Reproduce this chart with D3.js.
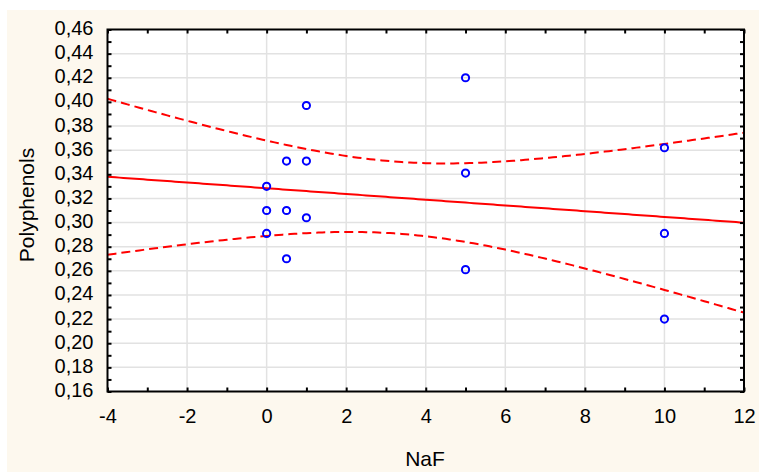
<!DOCTYPE html>
<html>
<head>
<meta charset="utf-8">
<script src="https://cdn.jsdelivr.net/npm/d3@7/dist/d3.min.js"></script>
<style>
  html, body { margin: 0; padding: 0; background: #ffffff; }
  svg { display: block; }
  text { font-family: "Liberation Sans", Arial, sans-serif; fill: #000; }
</style>
</head>
<body>
<svg id="chart" width="759" height="474"></svg>
<script>
// NaF dose (x) and measured polyphenols (y), one entry per sample
const nafDose = [0, 0, 0, 0.5, 0.5, 0.5, 1, 1, 1, 5, 5, 5, 10, 10, 10];
const polyphenols = [0.330, 0.310, 0.291, 0.351, 0.310, 0.270, 0.397, 0.351, 0.304,
                     0.420, 0.341, 0.261, 0.362, 0.291, 0.220];

// Axis tick labels
const xTickValues = [-4, -2, 0, 2, 4, 6, 8, 10, 12];
const yTickValues = [0.16, 0.18, 0.20, 0.22, 0.24, 0.26, 0.28, 0.30, 0.32,
                     0.34, 0.36, 0.38, 0.40, 0.42, 0.44, 0.46];
const xMinorTicks = d3.range(-4, 12.001, 1);
const yMinorTicks = d3.range(0.16, 0.4601, 0.01);

const xTitle = "NaF";
const yTitle = "Polyphenols";

// Two-sided 95% Student t quantile for n - 2 = 13 degrees of freedom
const tCrit = 2.1604;

const svg = d3.select("#chart");
const W = 759, H = 474;
const plot = { left: 107.5, top: 29.5, right: 744, bottom: 391.5 };

const x = d3.scaleLinear().domain([-4, 12]).range([plot.left, plot.right]);
const y = d3.scaleLinear().domain([0.16, 0.46]).range([plot.bottom, plot.top]);

// Panel background
svg.append("rect").attr("x", 7).attr("y", 10).attr("width", W - 7).attr("height", 462)
  .attr("fill", "#fdf8ee");
svg.append("rect").attr("x", plot.left).attr("y", plot.top)
  .attr("width", plot.right - plot.left).attr("height", plot.bottom - plot.top)
  .attr("fill", "#ffffff");

// Grid lines at the labelled ticks
const grid = svg.append("g").attr("stroke", "#e2e2e2").attr("stroke-width", 1.5);
grid.selectAll(".gx").data(xTickValues.slice(1, -1)).join("line")
  .attr("x1", d => x(d)).attr("x2", d => x(d))
  .attr("y1", plot.top).attr("y2", plot.bottom);
grid.selectAll(".gy").data(yTickValues.slice(1, -1)).join("line")
  .attr("x1", plot.left).attr("x2", plot.right)
  .attr("y1", d => y(d)).attr("y2", d => y(d));

// Least-squares fit with 95% confidence band for the mean
const n = nafDose.length;
const mx = d3.mean(nafDose), my = d3.mean(polyphenols);
const sxx = d3.sum(nafDose, v => (v - mx) ** 2);
const sxy = d3.sum(nafDose, (v, i) => (v - mx) * (polyphenols[i] - my));
const slope = sxy / sxx;
const intercept = my - slope * mx;
const sse = d3.sum(nafDose, (v, i) => (polyphenols[i] - (intercept + slope * v)) ** 2);
const se = Math.sqrt(sse / (n - 2));
const fitAt = v => intercept + slope * v;
const halfWidth = v => tCrit * se * Math.sqrt(1 / n + (v - mx) ** 2 / sxx);

const grid01 = d3.range(-4, 12.0001, 0.1);
const clip = svg.append("clipPath").attr("id", "plotclip").append("rect")
  .attr("x", plot.left).attr("y", plot.top)
  .attr("width", plot.right - plot.left).attr("height", plot.bottom - plot.top);

const lineGen = fn => d3.line().x(d => x(d)).y(d => y(fn(d)))(grid01);
const fitLayer = svg.append("g").attr("clip-path", "url(#plotclip)")
  .attr("fill", "none").attr("stroke", "#ff0000").attr("stroke-width", 2);
fitLayer.append("path").attr("d", lineGen(fitAt));
fitLayer.append("path").attr("d", lineGen(v => fitAt(v) + halfWidth(v)))
  .attr("stroke-dasharray", "9,5");
fitLayer.append("path").attr("d", lineGen(v => fitAt(v) - halfWidth(v)))
  .attr("stroke-dasharray", "9,5");

// Sample points
svg.append("g").selectAll("circle").data(nafDose.map((v, i) => [v, polyphenols[i]]))
  .join("circle")
  .attr("cx", d => x(d[0])).attr("cy", d => y(d[1])).attr("r", 3.6)
  .attr("fill", "none").attr("stroke", "#0000ff").attr("stroke-width", 2);

// Inward tick marks on all four sides of the frame
const tickLen = 4;
function inwardTicks(axis, tx, ty) {
  const g = svg.append("g").attr("transform", `translate(${tx},${ty})`)
    .call(axis.tickSize(tickLen).tickFormat(""));
  g.select(".domain").remove();
  g.selectAll(".tick line").attr("stroke", "#000").attr("stroke-width", 2);
}
inwardTicks(d3.axisTop(x).tickValues(xMinorTicks), 0, plot.bottom);
inwardTicks(d3.axisBottom(x).tickValues(xMinorTicks), 0, plot.top);
inwardTicks(d3.axisRight(y).tickValues(yMinorTicks), plot.left, 0);
inwardTicks(d3.axisLeft(y).tickValues(yMinorTicks), plot.right, 0);

// Frame
svg.append("rect").attr("x", plot.left).attr("y", plot.top)
  .attr("width", plot.right - plot.left).attr("height", plot.bottom - plot.top)
  .attr("fill", "none").attr("stroke", "#000").attr("stroke-width", 2);

// Tick labels
const yFmt = d => d3.format(".2f")(d).replace(".", ",");
const xFmt = d => String(d);

const yAxis = svg.append("g").attr("transform", `translate(${plot.left},0)`)
  .call(d3.axisLeft(y).tickValues(yTickValues).tickSize(0).tickPadding(14).tickFormat(yFmt));
yAxis.select(".domain").remove();
yAxis.selectAll("text").attr("font-size", 20).attr("dy", "0.25em")
  .style("font-family", "'Liberation Sans', Arial, sans-serif").attr("fill", "#000");

const xAxis = svg.append("g").attr("transform", `translate(0,${plot.bottom})`)
  .call(d3.axisBottom(x).tickValues(xTickValues).tickSize(0).tickPadding(17).tickFormat(xFmt));
xAxis.select(".domain").remove();
xAxis.selectAll("text").attr("font-size", 20)
  .style("font-family", "'Liberation Sans', Arial, sans-serif").attr("fill", "#000");

// Axis titles
svg.append("text").attr("x", 425).attr("y", 466).attr("text-anchor", "middle")
  .attr("font-size", 21).text(xTitle);
svg.append("text").attr("transform", "translate(34,205) rotate(-90)")
  .attr("text-anchor", "middle").attr("font-size", 21).text(yTitle);
</script>
</body>
</html>
